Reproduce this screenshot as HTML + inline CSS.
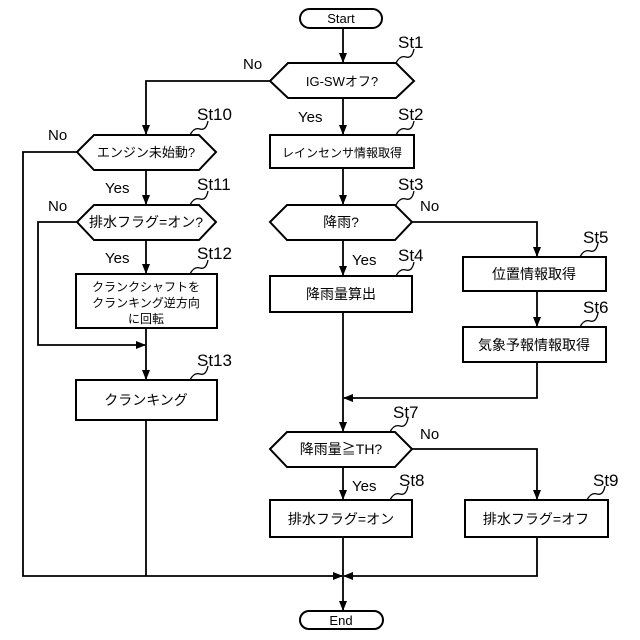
<!DOCTYPE html>
<html><head><meta charset="utf-8"><style>body{margin:0;background:#fff}svg{display:block}</style></head><body>
<svg width="640" height="640" viewBox="0 0 640 640" xmlns="http://www.w3.org/2000/svg">
<defs><marker id="a" markerWidth="10" markerHeight="10" refX="9" refY="5" orient="auto" markerUnits="userSpaceOnUse"><path d="M0,1 L10,5 L0,9 Z" fill="#000"/></marker></defs>
<g fill="none" stroke="#000" stroke-width="2">
<rect x="300" y="9" width="82" height="19" rx="9.5"/>
<rect x="300" y="611" width="83" height="18" rx="9"/>
<polygon points="270,81 288,63 396,63 414,81 396,98 288,98"/>
<polygon points="77,152 94,135 199,135 216,152 199,170 94,170"/>
<polygon points="77,222 94,205 199,205 216,222 199,240 94,240"/>
<rect x="76" y="274" width="141" height="54"/>
<rect x="76" y="380" width="141" height="40"/>
<rect x="270" y="135" width="144" height="33"/>
<polygon points="270,222 287,205 395,205 412,222 395,240 287,240"/>
<rect x="270" y="276" width="142" height="36"/>
<rect x="463" y="257" width="143" height="34"/>
<rect x="463" y="327" width="143" height="35"/>
<polygon points="270,449 287,432 395,432 412,449 395,467 287,467"/>
<rect x="270" y="500" width="142" height="37"/>
<rect x="465" y="500" width="143" height="37"/>
</g>
<g fill="none" stroke="#000" stroke-width="1.8">
<path d="M343,28 V62" marker-end="url(#a)"/>
<path d="M343,98 V134" marker-end="url(#a)"/>
<path d="M343,168 V204" marker-end="url(#a)"/>
<path d="M343,240 V275" marker-end="url(#a)"/>
<path d="M412,222 H537 V256" marker-end="url(#a)"/>
<path d="M537,291 V326" marker-end="url(#a)"/>
<path d="M537,362 V398 H344" marker-end="url(#a)"/>
<path d="M343,312 V431" marker-end="url(#a)"/>
<path d="M343,467 V499" marker-end="url(#a)"/>
<path d="M412,449 H537 V499" marker-end="url(#a)"/>
<path d="M270,81 H146 V134" marker-end="url(#a)"/>
<path d="M146,170 V204" marker-end="url(#a)"/>
<path d="M146,240 V273" marker-end="url(#a)"/>
<path d="M146,328 V379" marker-end="url(#a)"/>
<path d="M77,222 H38 V345 H145" marker-end="url(#a)"/>
<path d="M77,152 H23 V576 H342" marker-end="url(#a)"/>
<path d="M146,420 V576"/>
<path d="M537,537 V576 H344" marker-end="url(#a)"/>
<path d="M343,537 V610" marker-end="url(#a)"/>
</g>
<g fill="none" stroke="#000" stroke-width="1.3">
<path d="M396,63 q4,-8 10,-6 q6,2 8,-8"/>
<path d="M190,135 q4,-8 10,-6 q6,2 8,-8"/>
<path d="M190,205 q4,-8 10,-6 q6,2 8,-8"/>
<path d="M190,274 q4,-8 10,-6 q6,2 8,-8"/>
<path d="M190,380 q4,-8 10,-6 q6,2 8,-8"/>
<path d="M396,135 q4,-8 10,-6 q6,2 8,-8"/>
<path d="M396,205 q4,-8 10,-6 q6,2 8,-8"/>
<path d="M396,276 q4,-8 10,-6 q6,2 8,-8"/>
<path d="M580,257 q4,-8 10,-6 q6,2 8,-8"/>
<path d="M580,327 q4,-8 10,-6 q6,2 8,-8"/>
<path d="M390,432 q4,-8 10,-6 q6,2 8,-8"/>
<path d="M390,500 q4,-8 10,-6 q6,2 8,-8"/>
<path d="M587,500 q4,-8 10,-6 q6,2 8,-8"/>
</g>
<g font-family="Liberation Sans, Noto Sans CJK JP, sans-serif" font-size="17" fill="#000">
<text x="398" y="48">St1</text><text x="197" y="120">St10</text><text x="197" y="190">St11</text>
<text x="197" y="259">St12</text><text x="197" y="366">St13</text><text x="398" y="120">St2</text>
<text x="398" y="190">St3</text><text x="398" y="261">St4</text><text x="583" y="243">St5</text>
<text x="583" y="313">St6</text><text x="393" y="418">St7</text><text x="399" y="486">St8</text><text x="593" y="486">St9</text>
</g>
<g font-family="Liberation Sans, Noto Sans CJK JP, sans-serif" font-size="15" fill="#000">
<text x="243" y="69">No</text><text x="298" y="122">Yes</text><text x="48" y="140">No</text>
<text x="105" y="193">Yes</text><text x="48" y="211">No</text><text x="105" y="263">Yes</text>
<text x="420" y="211">No</text><text x="352" y="265">Yes</text><text x="420" y="439">No</text><text x="352" y="491">Yes</text>
</g>
<g font-family="Liberation Sans, Noto Sans CJK JP, sans-serif" font-size="13" fill="#000" text-anchor="middle">
<text x="341" y="23">Start</text><text x="341" y="625">End</text>
<text x="342" y="86">IG-SWオフ?</text>
<text x="146" y="157">エンジン未始動?</text>
<text x="146" y="227" font-size="14">排水フラグ=オン?</text>
<text x="146" y="291" font-size="12">クランクシャフトを</text>
<text x="146" y="307" font-size="12">クランキング逆方向</text>
<text x="146" y="323" font-size="12">に回転</text>
<text x="146" y="405" font-size="14">クランキング</text>
<text x="342" y="157" font-size="12">レインセンサ情報取得</text>
<text x="341" y="227" font-size="14">降雨?</text>
<text x="341" y="299" font-size="14">降雨量算出</text>
<text x="534" y="279" font-size="14">位置情報取得</text>
<text x="534" y="350" font-size="14">気象予報情報取得</text>
<text x="341" y="454" font-size="14">降雨量≧TH?</text>
<text x="341" y="524" font-size="14">排水フラグ=オン</text>
<text x="536" y="524" font-size="14">排水フラグ=オフ</text>
</g>
</svg>
</body></html>
